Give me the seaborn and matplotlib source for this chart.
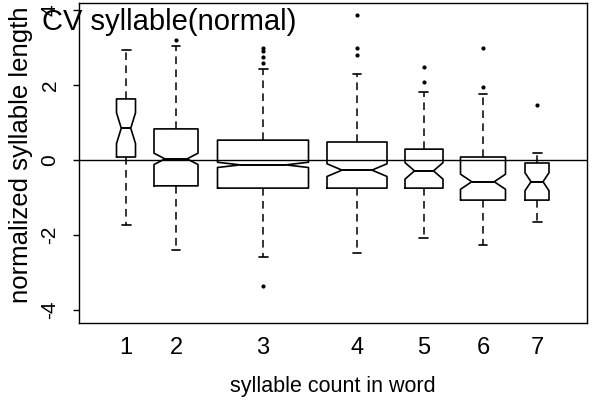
import numpy as np
import pandas as pd
import matplotlib
matplotlib.use("Agg")
import matplotlib.pyplot as plt
import seaborn as sns

# Values (normalized syllable length)
groups = ["1", "2", "3", "4", "5", "6", "7"]
q1 = [0.08, -0.69, -0.75, -0.75, -0.75, -1.07, -1.07]
median = [0.85, 0.03, -0.13, -0.27, -0.29, -0.58, -0.58]
q3 = [1.63, 0.83, 0.53, 0.48, 0.29, 0.08, -0.08]
whisker_lo = [-1.73, -2.40, -2.59, -2.48, -2.08, -2.27, -1.65]
whisker_hi = [2.93, 3.05, 2.43, 2.30, 1.82, 1.75, 0.20]
outliers_lo = [[], [], [-3.36], [], [], [], []]
outliers_hi = [[], [3.20], [2.60, 2.75, 2.90, 3.00], [2.80, 2.98, 3.87],
               [2.08, 2.48], [1.95, 2.98], [1.47]]
# group sizes (estimated from notch depth / box width)
n_obs = [35, 250, 820, 130, 55, 80, 42]

# layout: box centres and widths in axis units
positions = [1, 2, 3.74, 5.62, 6.96, 8.14, 9.22]
box_widths = [0.38, 0.88, 1.82, 1.2, 0.76, 0.9, 0.48]


def group_sample(i):
    """Rebuild a sample whose boxplot stats match the values read above"""
    n_out = len(outliers_lo[i]) + len(outliers_hi[i])
    a = n_obs[i] // 3
    b = n_obs[i] - 2 * a - 2 - n_out
    vals = (outliers_lo[i] + [whisker_lo[i]] + [q1[i]] * a + [median[i]] * b
            + [q3[i]] * a + [whisker_hi[i]] + outliers_hi[i])
    return np.array(vals)


sns.set_theme(style="ticks")
plt.rcParams["font.family"] = ["Liberation Sans", "DejaVu Sans"]
plt.rcParams["axes.unicode_minus"] = False
for key in ["text.color", "axes.labelcolor", "xtick.color", "ytick.color"]:
    plt.rcParams[key] = "black"

fig = plt.figure(figsize=(5.93, 4.08), dpi=100)
ax = fig.add_axes([79 / 593, 85 / 408, 508 / 593, 320 / 408])

for i, g in enumerate(groups):
    vals = group_sample(i)
    df = pd.DataFrame({"pos": [positions[i]] * len(vals), "value": vals})
    sns.boxplot(data=df, x="pos", y="value", orient="x", native_scale=True,
                width=box_widths[i], fill=False, color="black", linewidth=1.2,
                notch=True, fliersize=2, ax=ax, capwidths=0.18,
                whiskerprops=dict(linestyle=(0, (5, 3.5)), linewidth=1.1),
                medianprops=dict(linewidth=1.4),
                flierprops=dict(marker="o", markerfacecolor="black",
                                markeredgecolor="black"))

ax.axhline(0, color="black", linewidth=1.0, zorder=5)

ax.set_xlim(0.06, 10.22)
ax.set_ylim(-4.35, 4.19)
ax.set_xticks(positions)
ax.set_xticklabels(groups, fontsize=17)
ax.set_yticks([-4, -2, 0, 2, 4])
ax.set_yticklabels(["-4", "-2", "0", "2", "4"], fontsize=15, rotation=90,
                   va="center")
ax.tick_params(axis="x", length=0, pad=10)
ax.tick_params(axis="y", length=4, width=1, pad=10, color="black")
for s in ax.spines.values():
    s.set_visible(True)
    s.set_color("black")
    s.set_linewidth(1.0)

ax.set_xlabel("syllable count in word", fontsize=15.5, labelpad=12)
ax.set_ylabel("normalized syllable length", fontsize=18.5)
ax.yaxis.set_label_coords(-0.09, 0.525)

fig.text(42 / 593, 1 - 22 / 408, "CV syllable(normal)", fontsize=21,
         va="center", ha="left")

fig.savefig("out.png", dpi=100)
